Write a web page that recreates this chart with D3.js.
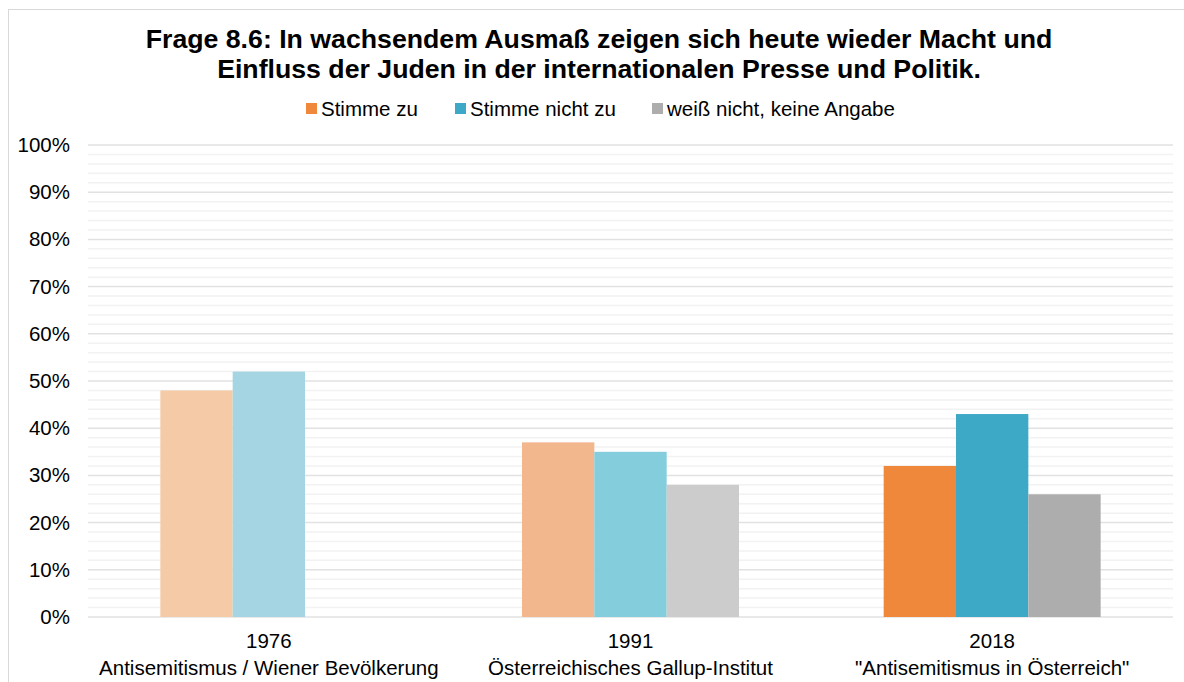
<!DOCTYPE html>
<html>
<head>
<meta charset="utf-8">
<script src="https://cdn.jsdelivr.net/npm/d3@7"></script>
<style>
  body { margin: 0; background: #fff; }
  text { font-family: "Liberation Sans", Arial, sans-serif; fill: #000; }
</style>
</head>
<body>
<div id="chart"></div>
<script>
// data
var years = ["1976", "1991", "2018"];
var sources = ["Antisemitismus / Wiener Bevölkerung", "Österreichisches Gallup-Institut", "\"Antisemitismus in Österreich\""];
var series = ["Stimme zu", "Stimme nicht zu", "weiß nicht, keine Angabe"];
var stimmeZu = [48, 37, 32];
var stimmeNichtZu = [52, 35, 43];
var weissNicht = [null, 28, 26];
var yTicks = [0, 10, 20, 30, 40, 50, 60, 70, 80, 90, 100];

// colours: older surveys drawn in lighter shades
var legendColors = ["#ef883a", "#3ea9c6", "#adadad"];
var yearColors = [
  ["#f5cba7", "#a5d5e3", "#dddddd"],
  ["#f3b78e", "#84cddd", "#cccccc"],
  ["#ef883a", "#3ea9c6", "#adadad"]
];

var width = 1184, height = 682;
var margin = { top: 145, left: 88, right: 11, bottom: 65 };
var fs = "20.5px";

var svg = d3.select("#chart").append("svg")
  .attr("width", width)
  .attr("height", height);

// outer frame
svg.append("rect")
  .attr("x", 8.5).attr("y", 9.5)
  .attr("width", 1190).attr("height", 700)
  .attr("fill", "none")
  .attr("stroke", "#d9d9d9");

// title
svg.append("text")
  .attr("x", 599).attr("y", 48)
  .attr("text-anchor", "middle")
  .style("font-size", "26.7px").style("font-weight", "bold")
  .text("Frage 8.6: In wachsendem Ausmaß zeigen sich heute wieder Macht und");
svg.append("text")
  .attr("x", 599).attr("y", 78)
  .attr("text-anchor", "middle")
  .style("font-size", "26.7px").style("font-weight", "bold")
  .text("Einfluss der Juden in der internationalen Presse und Politik.");

// legend
var legendX = [306, 455, 652];
var legend = svg.selectAll(".legend")
  .data(series)
  .enter().append("g")
  .attr("class", "legend")
  .attr("transform", function(d, i) { return "translate(" + legendX[i] + ",103)"; });
legend.append("rect")
  .attr("width", 11).attr("height", 11)
  .attr("fill", function(d, i) { return legendColors[i]; });
legend.append("text")
  .attr("x", 15).attr("y", 13)
  .style("font-size", fs)
  .text(function(d) { return d; });

var w = width - margin.left - margin.right;
var h = height - margin.top - margin.bottom;

var g = svg.append("g")
  .attr("transform", "translate(" + margin.left + "," + margin.top + ")");

var y = d3.scaleLinear().domain([0, 100]).range([h, 0]);

var x0 = d3.scaleBand().domain(years).range([0, w]).padding(0);
var x1 = d3.scaleBand().domain(series)
  .range([x0.bandwidth() * 0.2, x0.bandwidth() * 0.8]);

// minor gridlines every 2%
g.selectAll(".minor")
  .data(d3.range(2, 100, 2).filter(function(v) { return v % 10 !== 0; }))
  .enter().append("line")
  .attr("x1", 0).attr("x2", w)
  .attr("y1", function(d) { return y(d); })
  .attr("y2", function(d) { return y(d); })
  .attr("stroke", "#f2f2f2")
  .attr("stroke-width", 1.5);

// major gridlines
g.selectAll(".major")
  .data(yTicks)
  .enter().append("line")
  .attr("x1", 0).attr("x2", w)
  .attr("y1", function(d) { return y(d); })
  .attr("y2", function(d) { return y(d); })
  .attr("stroke", "#e2e2e2")
  .attr("stroke-width", 1.5);

// bars
var rows = years.map(function(yr, i) {
  return { year: yr, idx: i, values: [stimmeZu[i], stimmeNichtZu[i], weissNicht[i]] };
});

var groups = g.selectAll(".grp")
  .data(rows)
  .enter().append("g")
  .attr("transform", function(d) { return "translate(" + x0(d.year) + ",0)"; });

groups.selectAll("rect")
  .data(function(d) {
    return d.values.map(function(v, j) { return { key: series[j], value: v, color: yearColors[d.idx][j] }; })
      .filter(function(e) { return e.value !== null; });
  })
  .enter().append("rect")
  .attr("x", function(d) { return x1(d.key); })
  .attr("width", x1.bandwidth())
  .attr("y", function(d) { return y(d.value); })
  .attr("height", function(d) { return h - y(d.value); })
  .attr("fill", function(d) { return d.color; });

// y axis
var yAxis = d3.axisLeft(y)
  .tickValues(yTicks)
  .tickSize(0)
  .tickPadding(18)
  .tickFormat(function(d) { return d + "%"; });
var ya = g.append("g").call(yAxis);
ya.select(".domain").remove();
ya.selectAll("text")
  .style("font-size", fs)
  .style("font-family", "'Liberation Sans', Arial, sans-serif")
  .attr("fill", "#000");

// x axis (two-line labels)
var xa = g.append("g")
  .attr("transform", "translate(0," + h + ")")
  .call(d3.axisBottom(x0).tickSize(0).tickFormat(""));
xa.select(".domain").remove();
xa.selectAll(".tick").each(function(d, i) {
  var t = d3.select(this);
  t.append("text").attr("y", 31).attr("text-anchor", "middle")
    .style("font-size", fs).attr("fill", "#000").text(d);
  t.append("text").attr("y", 58).attr("text-anchor", "middle")
    .style("font-size", fs).attr("fill", "#000").text(sources[i]);
});
</script>
</body>
</html>
